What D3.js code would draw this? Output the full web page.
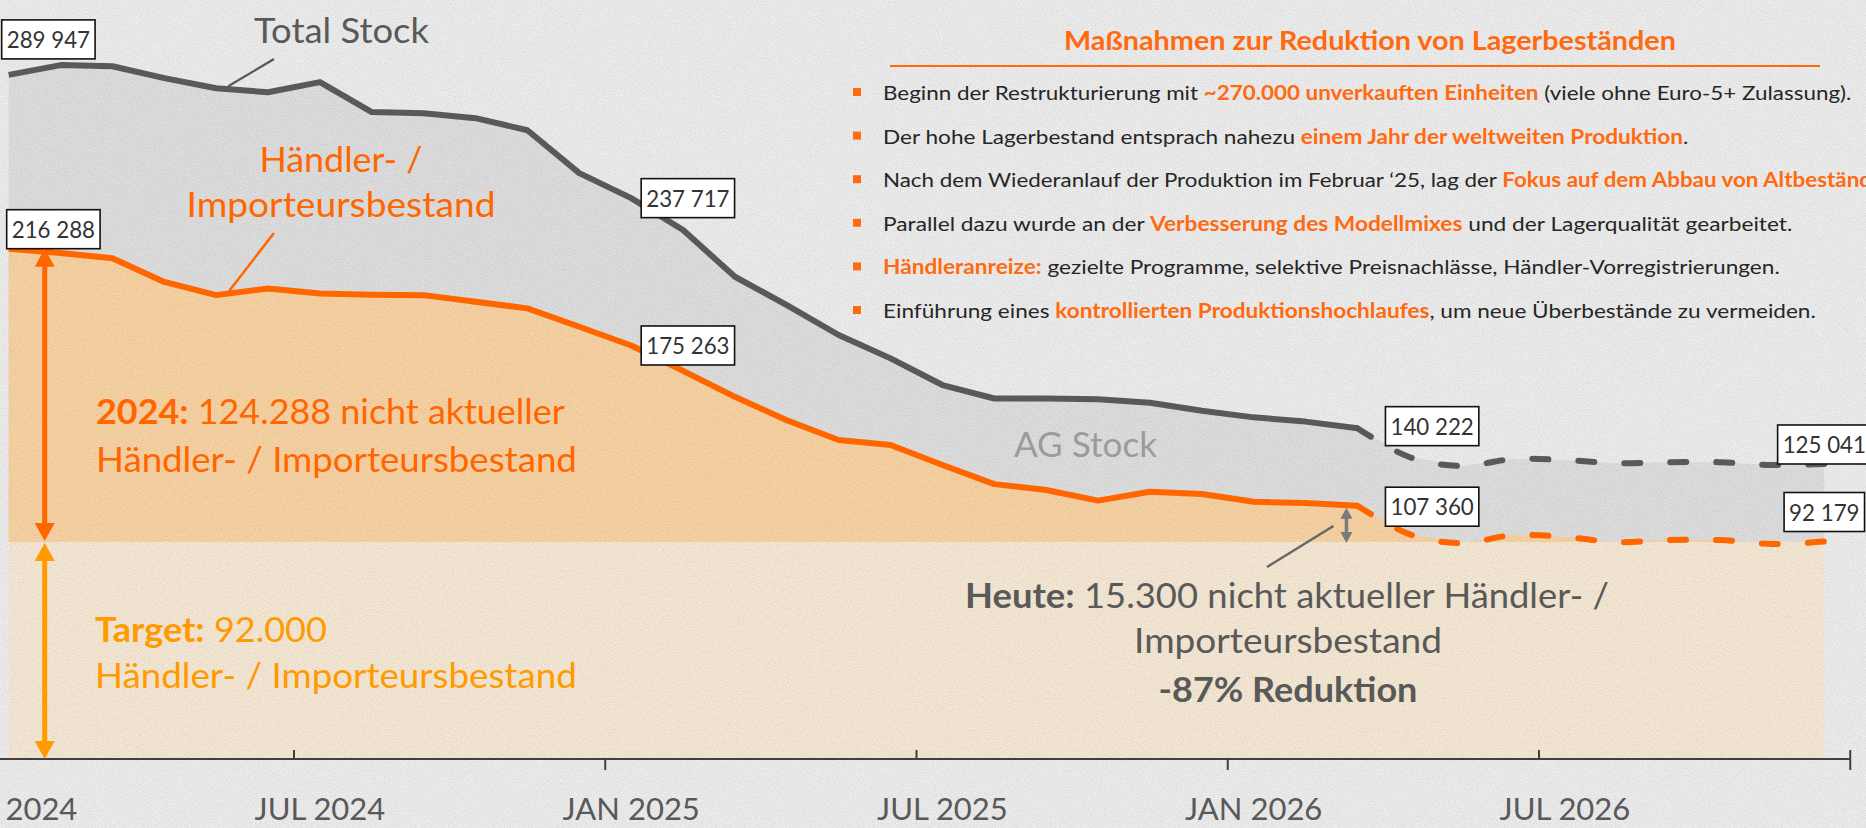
<!DOCTYPE html>
<html><head><meta charset="utf-8">
<script src="https://cdn.jsdelivr.net/npm/d3@7"></script>
<style>
html,body{margin:0;padding:0;background:#eeeeee;overflow:hidden}
svg{display:block;font-family:Lato,"Open Sans",sans-serif}
</style></head><body>
<svg id="chart" width="1866" height="828"></svg>
<script>
// ---------------- DATA ----------------
const months = ["JAN 2024","FEB 2024","MAR 2024","APR 2024","MAY 2024","JUN 2024","JUL 2024","AUG 2024","SEP 2024","OCT 2024","NOV 2024","DEC 2024",
                "JAN 2025","FEB 2025","MAR 2025","APR 2025","MAY 2025","JUN 2025","JUL 2025","AUG 2025","SEP 2025","OCT 2025","NOV 2025","DEC 2025",
                "JAN 2026","FEB 2026","MAR 2026","APR 2026","MAY 2026","JUN 2026","JUL 2026","AUG 2026","SEP 2026","OCT 2026","NOV 2026","DEC 2026"];
const tickLabels = ["JAN 2024","JUL 2024","JAN 2025","JUL 2025","JAN 2026","JUL 2026"];
// Actual (Jan 2024 - Mar 2026)
const totalActual  = [289947,294100,293600,288600,284300,282600,286900,274200,273700,271600,266500,248300,
                      237717,224200,204400,192400,179700,169800,158500,152800,152800,152500,151000,147600,
                      144800,143000,140222];
const dealerActual = [216288,214500,212200,202200,196600,199400,197300,196800,196600,193800,191000,183200,
                      175263,164500,153500,143600,135200,133100,124600,116500,114000,109500,113300,112300,
                      109000,108500,107360];
// Forecast (Mar 2026 - Dec 2026)
const totalForecast  = [140222,128000,124200,127100,126700,125400,125800,125800,124600,125041];
const dealerForecast = [107360,95300,91500,94900,94100,91900,92800,92800,91100,92179];
const target = 92000;

const actualMonths = months.slice(0, totalActual.length);
const forecastMonths = months.slice(totalActual.length - 1);

// ---------------- SETUP ----------------
const W = 1866, H = 828;
const svg = d3.select("#chart");
const C = {
  bg:"#eeeeee", grayFill:"#dfdfdf", orangeFill:"#f9d3a3", band:"#f6e9d5",
  grayLine:"#595959", orange:"#ff6600", amber:"#ff9a00", text:"#595959", dark:"#262626"
};

const x = d3.scaleBand().domain(months).range([-17.25, 1850.25]).padding(0);
const xc = m => x(m) + x.bandwidth() / 2;
const y = d3.scaleLinear().domain([0, 320000]).range([759, 4]);

// defs: grain
const defs = svg.append("defs");
const f = defs.append("filter").attr("id","grain").attr("x",0).attr("y",0).attr("width","100%").attr("height","100%");
f.append("feTurbulence").attr("type","fractalNoise").attr("baseFrequency","0.85").attr("numOctaves",2).attr("seed",7);
f.append("feColorMatrix").attr("type","matrix").attr("values","0 0 0 0 0  0 0 0 0 0  0 0 0 0 0  0.16 0 0 0 -0.05");

svg.append("rect").attr("width",W).attr("height",H).attr("fill",C.bg);

// ---------------- AREAS ----------------
const actT = actualMonths.map((m,i)=>({m, v: totalActual[i]}));
const actD = actualMonths.map((m,i)=>({m, v: dealerActual[i]}));
const fcT = forecastMonths.map((m,i)=>({m, v: totalForecast[i]}));
const fcD = forecastMonths.map((m,i)=>({m, v: dealerForecast[i]}));

const areaTo = d3.area().x(d=>xc(d.m)).y0(y(target)).y1(d=>y(d.v));
svg.append("path").datum(actT.concat(fcT.slice(1))).attr("d", areaTo).attr("fill", C.grayFill);
svg.append("path").datum(actD.concat(fcD.slice(1))).attr("d", areaTo).attr("fill", C.orangeFill);
// target band
svg.append("rect")
  .attr("x", xc(months[0])).attr("width", xc(months[months.length-1]) - xc(months[0]))
  .attr("y", y(target)).attr("height", y(0) - y(target)).attr("fill", C.band);

// grain overlay
svg.append("rect").attr("width",W).attr("height",H).attr("filter","url(#grain)").attr("pointer-events","none");

// ---------------- LINES ----------------
const lineLin = d3.line().x(d=>xc(d.m)).y(d=>y(d.v)).curve(d3.curveLinear);
const lineSmooth = d3.line().x(d=>xc(d.m)).y(d=>y(d.v)).curve(d3.curveCatmullRom.alpha(0.5));

function dashed(data, color){
  svg.append("path").datum(data).attr("d", lineSmooth).attr("fill","none")
    .attr("stroke", color).attr("stroke-width", 6).attr("stroke-linecap","round")
    .attr("stroke-dasharray","16 30");
}
dashed(fcT, C.grayLine);
dashed(fcD, C.orange);
svg.append("path").datum(actT).attr("d", lineLin).attr("fill","none").attr("stroke",C.grayLine)
  .attr("stroke-width",6).attr("stroke-linejoin","round");
svg.append("path").datum(actD).attr("d", lineLin).attr("fill","none").attr("stroke",C.orange)
  .attr("stroke-width",6).attr("stroke-linejoin","round");

// ---------------- AXIS ----------------
const axisY = y(0);
const ax = svg.append("g").attr("transform",`translate(0,${axisY})`)
  .call(d3.axisBottom(x).tickValues(tickLabels).tickSize(0).tickPadding(0));
ax.select(".domain").remove();
ax.selectAll("text").attr("y", 61).attr("dy", 0)
  .attr("font-family","Lato").attr("font-size", 31).attr("fill", C.text);
svg.append("line").attr("x1",0).attr("x2",x.range()[1]).attr("y1",axisY).attr("y2",axisY)
  .attr("stroke","#3f3f3f").attr("stroke-width",2);
tickLabels.slice(1).forEach((t)=>{
  const up = t.startsWith("JUL");
  svg.append("line").attr("x1",x(t)).attr("x2",x(t))
    .attr("y1",axisY).attr("y2", up ? axisY-9 : axisY+11)
    .attr("stroke","#3f3f3f").attr("stroke-width",2);
});
svg.append("line").attr("x1",x.range()[1]).attr("x2",x.range()[1])
  .attr("y1",axisY-9).attr("y2",axisY+11).attr("stroke","#3f3f3f").attr("stroke-width",2);

// ---------------- TEXT HELPER ----------------
function addText(o){
  const g = svg.append("g").attr("transform",`translate(${o.x},${o.y})`);
  const t = g.append("text").attr("text-anchor", o.anchor || "start")
    .attr("font-size", o.size).attr("fill", o.fill || C.dark);
  o.parts.forEach(p=>{
    t.append("tspan").text(p[0]).attr("font-weight", p[1] ? 700 : 400)
      .attr("fill", p[2] || null);
  });
  if (o.width){
    const w = t.node().getComputedTextLength();
    const k = o.width / w;
    t.attr("transform", `scale(${k},1)`);
  }
  return t;
}

// ---------------- VALUE CALLOUTS ----------------
const fmt = v => d3.format(",")(v).replace(/,/g," ");
function callout(m, v, mode, dx, dy){
  const px = xc(m), py = y(v);
  const t = svg.append("text").text(fmt(v)).attr("font-size",24).attr("fill","#333").attr("text-anchor","middle");
  const tw = t.node().getComputedTextLength() * 0.93;
  const bw = tw + 10, bh = 39;
  let bx, by;
  if (mode === "above"){ bx = px + dx; by = py + dy - bh; }
  else if (mode === "right"){ bx = px + dx; by = py - bh/2 + dy; }
  else { bx = px - bw/2; by = py + dy - bh; }
  svg.insert("rect", () => t.node()).attr("x",bx).attr("y",by).attr("width",bw).attr("height",bh)
    .attr("fill","#fff").attr("stroke","#111").attr("stroke-width",1.6);
  t.attr("transform",`translate(${bx+bw/2},${by+bh/2+8.5}) scale(0.93,1)`);
}
callout(months[0], totalActual[0], "above", -7, -16);
callout(months[0], dealerActual[0], "above", -2, 0);
callout(months[12], totalActual[12], "right", 10, 0);
callout(months[12], dealerActual[12], "right", 10, 0);
callout(months[26], totalActual[26], "right", 28, -2);
callout(months[26], dealerActual[26], "right", 28, 1);
callout(months[35], totalForecast[9], "center", 0, 0);
callout(months[35], dealerForecast[9], "center", 0, -10);

// ---------------- ANNOTATIONS ----------------
// Total Stock
addText({x:254, y:43, size:35, fill:C.text, parts:[["Total Stock",false]], width:175});
svg.append("line").attr("x1",274).attr("y1",59).attr("x2",xc(months[4])+12).attr("y2",y(totalActual[4])-2)
  .attr("stroke",C.grayLine).attr("stroke-width",2.2);
// Händler-/Importeursbestand
addText({x:341, y:172, anchor:"middle", size:35, fill:C.orange, parts:[["Händler- /",false]], width:163});
addText({x:341, y:217, anchor:"middle", size:35, fill:C.orange, parts:[["Importeursbestand",false]], width:309});
svg.append("line").attr("x1",274).attr("y1",233).attr("x2",xc(months[4])+12).attr("y2",y(dealerActual[4])-3)
  .attr("stroke",C.orange).attr("stroke-width",2.5);
// AG Stock
addText({x:1014, y:457, size:35, fill:"#9b9b9b", parts:[["AG Stock",false]], width:143});

// 2024 block
addText({x:96, y:424, size:34, fill:C.orange, parts:[["2024:",true],[" 124.288 nicht aktueller",false]], width:469});
addText({x:96, y:472, size:34, fill:C.orange, parts:[["Händler- / Importeursbestand",false]], width:481});
// Target block
addText({x:95, y:642, size:34, fill:C.amber, parts:[["Target:",true],[" 92.000",false]], width:232});
addText({x:95, y:688, size:34, fill:C.amber, parts:[["Händler- / Importeursbestand",false]], width:482});
// Heute block
addText({x:1287, y:608, anchor:"middle", size:34, fill:C.text, parts:[["Heute:",true],[" 15.300 nicht aktueller Händler- /",false]], width:644});
addText({x:1288, y:653, anchor:"middle", size:34, fill:C.text, parts:[["Importeursbestand",false]], width:308});
addText({x:1288, y:702, anchor:"middle", size:34, fill:C.text, parts:[["-87% Reduktion",true]], width:259});

// arrows
function vArrow(ax, yTop, yBot, color, lw, hw, hh){
  svg.append("line").attr("x1",ax).attr("x2",ax).attr("y1",yTop+hh-1).attr("y2",yBot-hh+1)
    .attr("stroke",color).attr("stroke-width",lw);
  svg.append("path").attr("d",`M${ax},${yTop} L${ax-hw/2},${yTop+hh} L${ax+hw/2},${yTop+hh} Z`).attr("fill",color);
  svg.append("path").attr("d",`M${ax},${yBot} L${ax-hw/2},${yBot-hh} L${ax+hw/2},${yBot-hh} Z`).attr("fill",color);
}
const arrX = xc(months[0]) + 36;
vArrow(arrX, y(dealerActual[0]), y(target)-1, C.orange, 5, 20, 18);
vArrow(arrX, y(target)+1, y(0), C.amber, 5, 20, 18);
const smallX = xc(months[26]) - 11;
vArrow(smallX, y(dealerActual[26])+2, y(target)+1, "#7a7a7a", 3.5, 12, 11);
svg.append("line").attr("x1",1267).attr("y1",567).attr("x2",smallX-13).attr("y2",526)
  .attr("stroke","#666").attr("stroke-width",2.5);

// ---------------- RIGHT PANEL ----------------
addText({x:1370, y:50, anchor:"middle", size:26, fill:"#ff6a10", parts:[["Maßnahmen zur Reduktion von Lagerbeständen",true]], width:612});
svg.append("line").attr("x1",890).attr("x2",1820).attr("y1",66).attr("y2",66).attr("stroke","#ff6a10").attr("stroke-width",2.2);

const O = "#ff6a10";
const bullets = [
  {w:969, parts:[["Beginn der Restrukturierung mit ",false],["~270.000 unverkauften Einheiten",true,O],[" (viele ohne Euro-5+ Zulassung).",false]]},
  {w:806, parts:[["Der hohe Lagerbestand entsprach nahezu ",false],["einem Jahr der weltweiten Produktion",true,O],[".",false]]},
  {w:1019, parts:[["Nach dem Wiederanlauf der Produktion im Februar \u201825, lag der ",false],["Fokus auf dem Abbau von Altbeständen",true,O],[".",false]]},
  {w:910, parts:[["Parallel dazu wurde an der ",false],["Verbesserung des Modellmixes",true,O],[" und der Lagerqualität gearbeitet.",false]]},
  {w:897, parts:[["Händleranreize:",true,O],[" gezielte Programme, selektive Preisnachlässe, Händler-Vorregistrierungen.",false]]},
  {w:933, parts:[["Einführung eines ",false],["kontrollierten Produktionshochlaufes",true,O],[", um neue Überbestände zu vermeiden.",false]]}
];
bullets.forEach((b,i)=>{
  const by = 100 + i*43.6;
  svg.append("rect").attr("x",853).attr("y",by-12).attr("width",8).attr("height",8).attr("fill",O);
  addText({x:883, y:by, size:20, fill:C.dark, parts:b.parts, width:b.w});
});
</script>
</body></html>
